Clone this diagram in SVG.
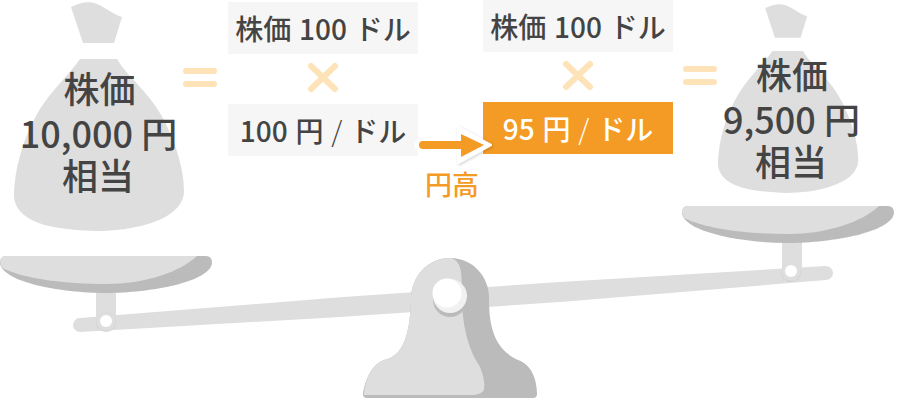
<svg xmlns="http://www.w3.org/2000/svg" width="900" height="400" viewBox="0 0 900 400">
<style>
text{font-family:"Noto Sans CJK JP","Noto Sans",sans-serif;font-weight:500;text-anchor:middle;fill:#444}
.bag text{font-size:36px}
.box text{font-size:28px;word-spacing:1.500px}
.box tspan{font-weight:300}
.g{fill:#dedede}.d{fill:#bbb}
.box rect{fill:#f6f6f6}
.sym{stroke:#fee3b8;stroke-width:6;stroke-linecap:round;fill:none}
</style>
<defs>
<path id="bagshape" d="M71 7C80 3 87 1 94 3C104 6 112 14 122 17L114 43H83ZM80 59H117C128 78 150 92 165 122C177 147 184 170 184 192C182 222 130 231 97 231C62 230 18 226 14 198C14 165 26 132 40 109C52 90 68 76 80 59Z"/>
<filter id="sh" x="-20%" y="-20%" width="150%" height="150%"><feDropShadow dx="1" dy="1" stdDeviation="1.500" flood-color="#000" flood-opacity=".2"/></filter>
</defs>
<g id="scale">
<path class="g" d="M80 318L340 297.300L560 282L826 266A7 7 0 0 1 826 280L670 293L560 302L340 317L80 332A7 7 0 0 1 80 318Z"/>
<rect class="g" x="96" y="290" width="20" height="36"/>
<rect class="g" x="782" y="240" width="20" height="36"/>
<circle cx="106" cy="322" r="10" fill="#d2d2d2"/><circle cx="106" cy="321.500" r="9.500" class="g"/><circle cx="106" cy="321" r="6" fill="#fff"/>
<circle cx="791" cy="272" r="10" fill="#d2d2d2"/><circle cx="791" cy="271.500" r="9.500" class="g"/><circle cx="791" cy="271" r="6" fill="#fff"/>
<path class="d" d="M6 256H206Q212 256 212 263C210 282 150 293 106 293C60 293 2 282 0 263Q0 256 6 256Z"/>
<path class="g" d="M6 256H197C180 272 145 284 106 284C65 284 25 279 2 268Q0 262 0 261Q1 256 6 256Z"/>
<path class="d" d="M688 206H888Q894 206 894 213C892 232 832 243 788 243C742 243 684 232 682 213Q682 206 688 206Z"/>
<path class="g" d="M688 206H879C862 222 827 234 788 234C747 234 707 229 684 218Q682 212 682 211Q683 206 688 206Z"/>
<path class="d" d="M450 258C474 258 489 278 489 297C489 322 492 348 518 360C533 365 537 382 537 394Q537 398 533 398H367Q363 398 363 394C365 380 372 364 384 360C405 356 410 330 411 300C411 276 428 258 450 258Z"/>
<path class="g" d="M451 258C462 262 461 272 462 285C461 310 464 340 477 362C484 372 485 385 484 390Q482 394 474 395H364C365 380 372 364 384 360C405 356 410 330 411 300C411 276 428 258 451 258Z"/>
<circle cx="450" cy="300" r="17" fill="#bbb"/>
<circle cx="450" cy="296" r="17" fill="#f1f1f1"/>
<circle cx="447" cy="293" r="14.500" fill="#fff"/>
</g>
<g id="bag-left" class="bag">
<use href="#bagshape" class="g"/>
<text x="99.500" y="103">株価</text><text x="98.500" y="147.500">10,000 円</text><text x="98" y="190">相当</text>
</g>
<g id="bag-right" class="bag">
<use href="#bagshape" class="g" transform="translate(706.500 2.300) scale(.825)"/>
<text x="792" y="89">株価</text><text x="791.500" y="133.500">9,500 円</text><text x="791" y="176">相当</text>
</g>
<g id="box1" class="box"><rect x="228" y="2" width="190" height="52"/><text x="323" y="40">株価 100 ドル</text></g>
<g id="box2" class="box"><rect x="228" y="104" width="190" height="52"/><text x="323" y="142">100 円 <tspan>/</tspan> ドル</text></g>
<g id="box3" class="box"><rect x="483" y="0" width="190" height="52"/><text x="578" y="38">株価 100 ドル</text></g>
<g id="box4" class="box"><rect x="483" y="102" width="190" height="52" style="fill:#f49b25"/><text x="578" y="140" style="fill:#fff">95 円 <tspan style="fill:#fff">/</tspan> ドル</text></g>
<g id="symbols" class="sym">
<path d="M186 71H214M186 84H214"/><path d="M686 69H714M686 82H714"/>
<path d="M311 66L335 89M335 66L311 89"/><path d="M566 64L590 87M590 64L566 87"/>
</g>
<g id="connectors">
<path d="M423 145H461" stroke="#fff" stroke-width="17" stroke-linecap="round" filter="url(#sh)"/>
<path d="M458 127L491 145L458 163Z" fill="#fff" stroke="#fff" stroke-width="2" stroke-linejoin="round" filter="url(#sh)"/>
<path d="M423 145H461" stroke="#fff" stroke-width="17" stroke-linecap="round"/>
<path d="M423 145H463" stroke="#f49b25" stroke-width="8" stroke-linecap="round"/>
<path d="M461 134L484 145L461 157Z" fill="#f49b25"/>
</g>
<g id="label"><text x="452" y="195" style="font-size:27px;fill:#f49b25">円高</text></g>
</svg>
